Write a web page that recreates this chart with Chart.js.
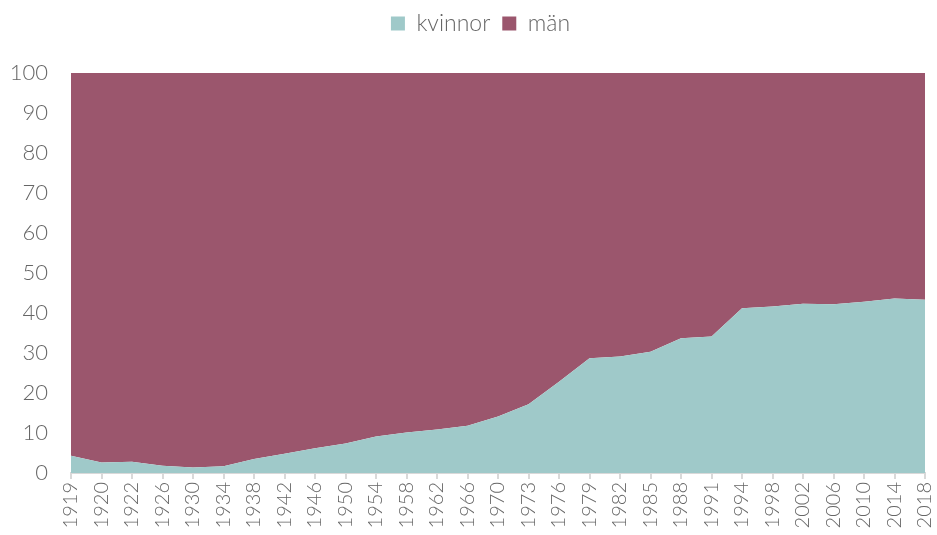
<!DOCTYPE html>
<html>
<head>
<meta charset="utf-8">
<script src="https://cdn.jsdelivr.net/npm/chart.js@4/dist/chart.umd.min.js"></script>
<style>
  html, body { margin: 0; padding: 0; background: #fff; }
  #wrap { width: 937px; height: 535px; }
</style>
</head>
<body>
<div id="wrap"><canvas id="chart"></canvas></div>
<script>
const years = ['1919', '1920', '1922', '1926', '1930', '1934', '1938', '1942', '1946', '1950',
  '1954', '1958', '1962', '1966', '1970', '1973', '1976', '1979', '1982', '1985',
  '1988', '1991', '1994', '1998', '2002', '2006', '2010', '2014', '2018'];
// share of women (percent)
const kvinnor = [4.3, 2.6, 2.8, 1.8, 1.4, 1.7, 3.5, 4.8, 6.2, 7.4,
  9.1, 10.1, 10.9, 11.8, 14.1, 17.2, 22.8, 28.7, 29.1, 30.3,
  33.7, 34.1, 41.2, 41.6, 42.3, 42.2, 42.8, 43.6, 43.3];
const man = kvinnor.map(v => +(100 - v).toFixed(1));
const yTicks = [0, 10, 20, 30, 40, 50, 60, 70, 80, 90, 100];

const textColor = '#666666';
const fontFamily = 'Lato, "Open Sans", sans-serif';

// make room between legend and plot, nudge legend a bit right
const legendSpace = {
  id: 'legendSpace',
  beforeLayout(chart) {
    const legend = chart.legend;
    if (legend && !legend._patched) {
      const fit = legend.fit;
      legend.fit = function () {
        fit.call(this);
        this.height = 73;
      };
      const draw = legend.draw;
      legend.draw = function () {
        const c = this.ctx;
        c.save();
        c.translate(12, 0);
        draw.call(this);
        c.restore();
      };
      legend._patched = true;
    }
  }
};

const ctx = document.getElementById('chart').getContext('2d');

new Chart(ctx, {
  type: 'line',
  data: {
    labels: years,
    datasets: [
      {
        label: 'kvinnor',
        data: kvinnor,
        fill: 'origin',
        backgroundColor: '#9fc9c9',
        borderColor: '#9fc9c9',
        borderWidth: 0,
        pointRadius: 0,
        tension: 0
      },
      {
        label: 'män',
        data: man,
        fill: '-1',
        backgroundColor: '#9b566d',
        borderColor: '#9b566d',
        borderWidth: 0,
        pointRadius: 0,
        tension: 0
      }
    ]
  },
  options: {
    responsive: true,
    maintainAspectRatio: false,
    animation: false,
    layout: { padding: { left: 0, right: 0, top: 0, bottom: 0 } },
    plugins: {
      tooltip: { enabled: false },
      legend: {
        position: 'top',
        labels: {
          color: textColor,
          font: { family: fontFamily, size: 23, weight: 300 },
          boxWidth: 14,
          boxHeight: 14,
          padding: 12
        }
      }
    },
    scales: {
      x: {
        offset: false,
        grid: {
          display: true,
          drawOnChartArea: false,
          drawTicks: true,
          tickLength: 6,
          color: '#d9d9d9',
          lineWidth: 2
        },
        border: { display: true, color: '#d9d9d9', width: 2 },
        ticks: {
          color: textColor,
          font: { family: fontFamily, size: 20, weight: 300 },
          minRotation: 90,
          maxRotation: 90,
          autoSkip: false,
          padding: 3
        },
        afterFit: scale => {
          scale.height = 62;
          scale.paddingLeft = 0;
          scale.paddingRight = 12;
        }
      },
      y: {
        stacked: true,
        min: 0,
        max: 100,
        afterBuildTicks: scale => { scale.ticks = yTicks.map(v => ({ value: v })); },
        grid: { display: false },
        border: { display: false },
        ticks: {
          color: textColor,
          font: { family: fontFamily, size: 22, weight: 300 },
          padding: 15
        },
        afterFit: scale => {
          scale.width = 71;
          scale.paddingTop = 0;
        }
      }
    }
  },
  plugins: [legendSpace]
});
</script>
</body>
</html>
